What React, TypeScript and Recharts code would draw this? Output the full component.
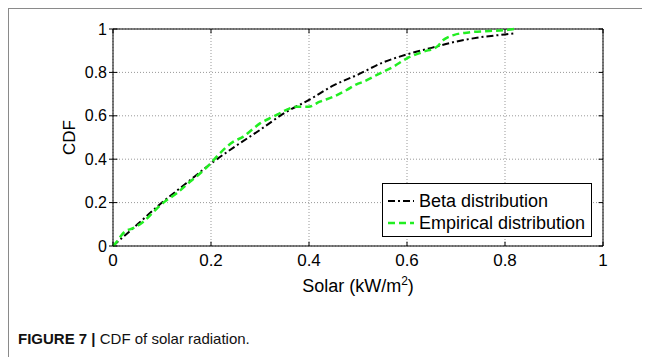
import { LineChart, Line, XAxis, YAxis, CartesianGrid, ReferenceLine, Legend, Label } from 'recharts';

const ticks = [0, 0.2, 0.4, 0.6, 0.8, 1];

// fitted beta CDF
const betaX = [0, 0.05, 0.1, 0.15, 0.2, 0.25, 0.3, 0.35, 0.4, 0.45, 0.5, 0.55, 0.6, 0.65, 0.7, 0.75, 0.8, 0.82];
const betaY = [0, 0.1, 0.2, 0.29, 0.38, 0.46, 0.535, 0.613, 0.673, 0.74, 0.79, 0.845, 0.883, 0.913, 0.942, 0.962, 0.975, 0.98];

// empirical CDF of the measured data
const empX = [0, 0.005, 0.014, 0.024, 0.041, 0.062, 0.083, 0.103, 0.13, 0.157, 0.178, 0.198, 0.218, 0.245, 0.266, 0.283, 0.3, 0.327, 0.354, 0.374, 0.399, 0.422, 0.45, 0.477, 0.497, 0.511, 0.545, 0.572, 0.6, 0.633, 0.661, 0.674, 0.695, 0.729, 0.769, 0.8, 0.82];
const empY = [0, 0.012, 0.04, 0.066, 0.082, 0.112, 0.158, 0.2, 0.243, 0.296, 0.335, 0.378, 0.427, 0.48, 0.504, 0.535, 0.565, 0.596, 0.627, 0.642, 0.642, 0.665, 0.688, 0.719, 0.745, 0.757, 0.796, 0.826, 0.865, 0.895, 0.918, 0.949, 0.972, 0.985, 0.991, 0.995, 1.0];

const betaData = betaX.map((x, i) => ({ x, cdf: betaY[i] }));
const empData = empX.map((x, i) => ({ x, cdf: empY[i] }));

const FONT = '"Liberation Sans", Arial, sans-serif';
const GREEN = '#22ee22';
const fmt = (v: number) => (v === 0 || v === 1 ? String(v) : v.toFixed(1));

function XLabel({ viewBox }: any) {
  const cx = viewBox.x + viewBox.width / 2;
  const y = viewBox.y + viewBox.height + 6;
  return (
    <text x={cx} y={y} textAnchor="middle" fontSize={18} fontFamily={FONT} fill="#000">
      Solar (kW/m<tspan dy={-7} fontSize={12}>2</tspan>
      <tspan dy={7}>)</tspan>
    </text>
  );
}

function LegendBox() {
  const rows = [
    { name: 'Beta distribution', color: '#000', dash: '7 3 2 3', w: 2 },
    { name: 'Empirical distribution', color: GREEN, dash: '7 4', w: 2.5 },
  ];
  return (
    <div style={{ width: 198, border: '1px solid #000', background: '#fff', padding: '6px 5px 2px 5px', fontFamily: FONT, fontSize: 18, lineHeight: '22px' }}>
      {rows.map((r) => (
        <div key={r.name} style={{ display: 'flex', alignItems: 'center', whiteSpace: 'nowrap' }}>
          <svg width={26} height={10} style={{ marginRight: 5, flexShrink: 0 }}>
            <line x1={0} y1={5} x2={26} y2={5} stroke={r.color} strokeWidth={r.w} strokeDasharray={r.dash} />
          </svg>
          <span>{r.name}</span>
        </div>
      ))}
    </div>
  );
}

export default function App() {
  return (
    <div style={{ position: 'relative', width: 642, height: 349, borderTop: '1px solid #8a8a8a', borderLeft: '1px solid #8a8a8a' }}>
      <LineChart width={620} height={300} margin={{ top: 20, right: 26, bottom: 23, left: 0 }}>
        <CartesianGrid stroke="#999" strokeDasharray="1 2" />
        <XAxis
          dataKey="x"
          type="number"
          domain={[0, 1]}
          ticks={ticks}
          tickFormatter={fmt}
          height={40}
          tickLine={false}
          tickSize={0}
          tickMargin={8}
          axisLine={{ stroke: '#000' }}
          tick={{ fontSize: 17, fill: '#000', fontFamily: FONT }}
          allowDuplicatedCategory={false}
        >
          <Label content={<XLabel />} />
        </XAxis>
        <YAxis
          type="number"
          domain={[0, 1]}
          ticks={ticks}
          tickFormatter={fmt}
          width={104}
          tickLine={{ stroke: '#000' }}
          tickSize={4}
          tickMargin={2}
          axisLine={{ stroke: '#000' }}
          tick={{ fontSize: 16, fill: '#000', fontFamily: FONT }}
        >
          <Label value="CDF" angle={-90} position="insideLeft" offset={60} style={{ fontSize: 17, fill: '#000', fontFamily: FONT, textAnchor: 'middle' }} />
        </YAxis>
        {/* closing box on top and right */}
        <ReferenceLine y={1} stroke="#000" />
        <ReferenceLine x={1} stroke="#000" />
        {/* inward tick marks on all four sides */}
        {ticks.map((t) => (
          <ReferenceLine key={'b' + t} segment={[{ x: t, y: 0 }, { x: t, y: 0.02 }]} stroke="#000" />
        ))}
        {ticks.map((t) => (
          <ReferenceLine key={'t' + t} segment={[{ x: t, y: 1 }, { x: t, y: 0.98 }]} stroke="#000" />
        ))}
        {ticks.map((t) => (
          <ReferenceLine key={'l' + t} segment={[{ x: 0, y: t }, { x: 0.009, y: t }]} stroke="#000" />
        ))}
        {ticks.map((t) => (
          <ReferenceLine key={'r' + t} segment={[{ x: 1, y: t }, { x: 0.991, y: t }]} stroke="#000" />
        ))}
        <Line
          data={betaData}
          dataKey="cdf"
          name="Beta distribution"
          type="monotone"
          stroke="#000"
          strokeWidth={2}
          strokeDasharray="7 3 2 3"
          dot={false}
          isAnimationActive={false}
        />
        <Line
          data={empData}
          dataKey="cdf"
          name="Empirical distribution"
          type="monotone"
          stroke={GREEN}
          strokeWidth={2.5}
          strokeDasharray="7 4"
          dot={false}
          isAnimationActive={false}
        />
        {/* middle/center placement keeps the legend from shrinking the plot */}
        <Legend
          layout="horizontal"
          align="center"
          verticalAlign="middle"
          content={<LegendBox />}
          wrapperStyle={{ position: 'absolute', left: 373, top: 174, width: 'auto', height: 'auto', bottom: 'auto', right: 'auto' }}
        />
      </LineChart>
      <div style={{ position: 'absolute', left: 9, top: 321, fontFamily: FONT, fontSize: 15, color: '#111', whiteSpace: 'nowrap' }}>
        <b>FIGURE 7 |</b> CDF of solar radiation.
      </div>
    </div>
  );
}
